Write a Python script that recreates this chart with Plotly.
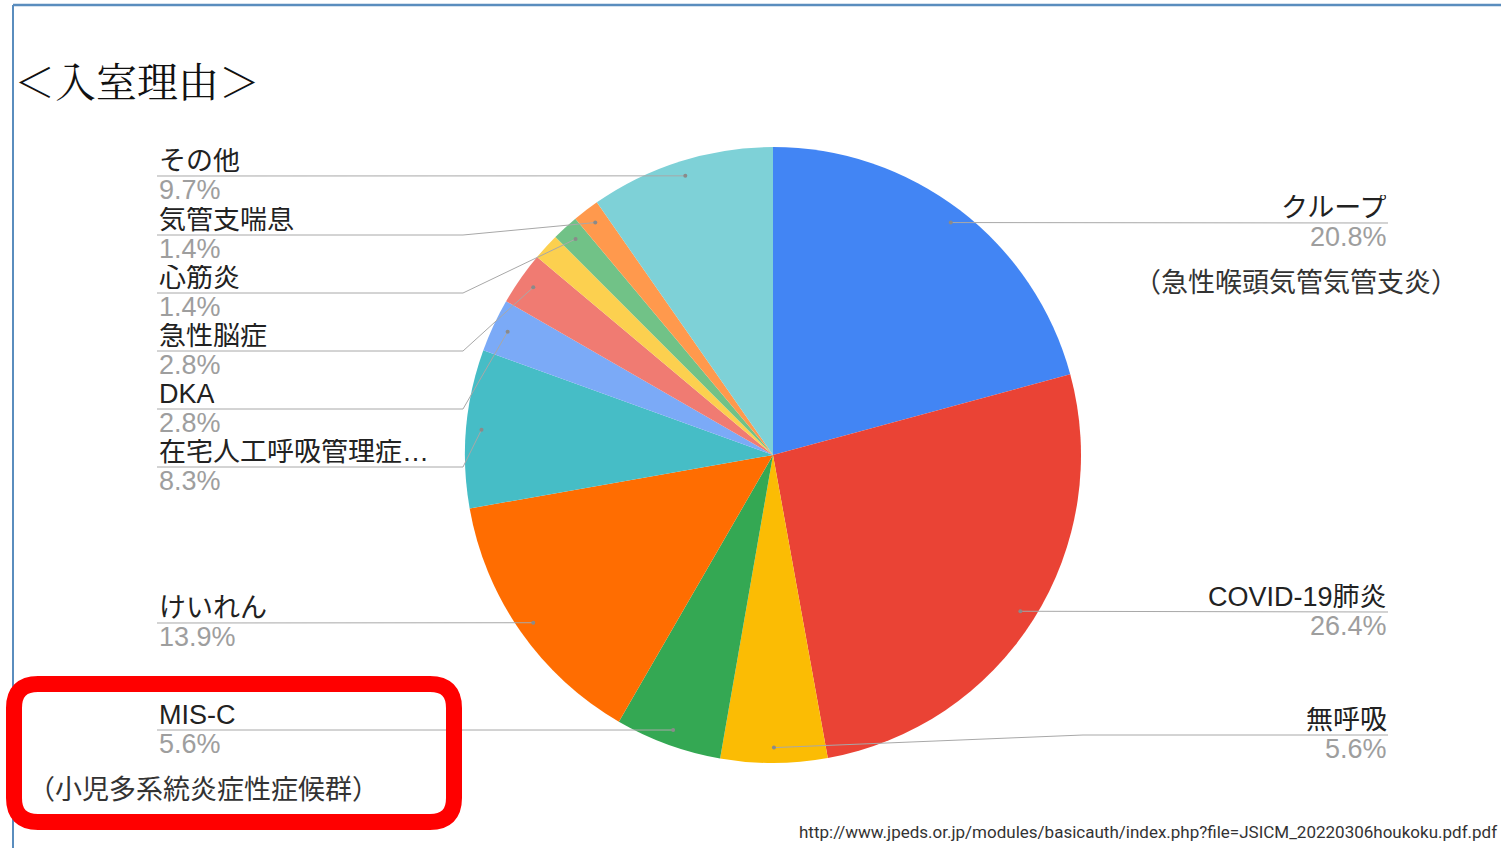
import math
import plotly.graph_objects as go

W, H = 1501, 848

# ---- data ----
categories = ["クループ", "COVID-19肺炎", "無呼吸", "MIS-C", "けいれん",
              "在宅人工呼吸管理症…", "DKA", "急性脳症", "（ラベルなし）",
              "心筋炎", "気管支喘息", "その他"]
percentages = [20.8, 26.4, 5.6, 5.6, 13.9, 8.3, 2.8, 2.8, 1.4, 1.4, 1.4, 9.7]
show_label = [True, True, True, True, True, True, True, True, False, True, True, True]
title_text = "＜入室理由＞"
note_croup = "（急性喉頭気管気管支炎）"
note_misc = "（小児多系統炎症性症候群）"
source_text = "http://www.jpeds.or.jp/modules/basicauth/index.php?file=JSICM_20220306houkoku.pdf.pdf"

# ---- styles / layout ----
colors = ["#4285F4", "#EA4335", "#FBBC04", "#34A853", "#FF6D01", "#46BDC6",
          "#7BAAF7", "#F07B72", "#FCD04F", "#71C287", "#FF994D", "#7ED1D7"]
label_side = ["right", "right", "right", "left", "left", "left", "left", "left",
              None, "left", "left", "left"]
label_line_y = [223, 612, 735, 730, 623, 467, 409, 351, None, 293, 235, 176]

CX, CY, R = 773, 455, 308
LEFT_X, RIGHT_X = 157, 1388
LEFT_ELBOW, RIGHT_ELBOW = 463, 1083
LABEL_FONT = "Arial, 'Liberation Sans', 'Noto Sans CJK JP', sans-serif"
CJK_FONT = "'Noto Sans CJK JP', sans-serif"


def px(x):
    return x / W


def py(y):
    return 1 - y / H


fig = go.Figure()
fig.add_trace(go.Pie(
    labels=categories,
    values=percentages,
    sort=False,
    direction="clockwise",
    rotation=0,
    marker=dict(colors=colors, line=dict(width=0)),
    textinfo="none",
    hoverinfo="none",
    showlegend=False,
    domain=dict(x=[px(CX - R), px(CX + R)], y=[py(CY + R), py(CY - R)]),
))

shapes = []
annotations = []
total = sum(percentages)
cum = 0.0
for i, v in enumerate(percentages):
    mid = (cum + v / 2) / total
    cum += v
    if not show_label[i]:
        continue
    th = 2 * math.pi * mid
    ax = CX + 0.95 * R * math.sin(th)
    ay = CY - 0.95 * R * math.cos(th)
    ly = label_line_y[i]
    side = label_side[i]
    xend = LEFT_X if side == "left" else RIGHT_X
    elbow = LEFT_ELBOW if side == "left" else RIGHT_ELBOW
    if abs(ay - ly) < 3:
        path = f"M {px(ax)},{py(ay)} L {px(xend)},{py(ly)}"
    else:
        path = (f"M {px(ax)},{py(ay)} L {px(elbow)},{py(ly)} "
                f"L {px(xend)},{py(ly)}")
    shapes.append(dict(type="path", xref="paper", yref="paper", path=path,
                       line=dict(color="#A8A8A8", width=1)))
    shapes.append(dict(type="circle", xref="paper", yref="paper",
                       x0=px(ax - 2), x1=px(ax + 2), y0=py(ay + 2), y1=py(ay - 2),
                       fillcolor="#8A8A8A", line=dict(width=0)))
    tx = px(158) if side == "left" else px(1388)
    xa = "left" if side == "left" else "right"
    annotations.append(dict(x=tx, y=py(ly - 15), xref="paper", yref="paper",
                            xanchor=xa, yanchor="middle", showarrow=False,
                            borderpad=0, height=26, text=categories[i],
                            font=dict(family=LABEL_FONT, size=27, color="#222222")))
    annotations.append(dict(x=tx, y=py(ly + 14), xref="paper", yref="paper",
                            xanchor=xa, yanchor="middle", showarrow=False,
                            borderpad=0, height=26, text=f"{v:.1f}%",
                            font=dict(family=LABEL_FONT, size=27, color="#9E9E9E")))

# extra notes
annotations.append(dict(x=px(1460), y=py(280), xref="paper", yref="paper",
                        xanchor="right", yanchor="middle", showarrow=False,
                        text=note_croup,
                        font=dict(family=CJK_FONT, size=27, color="#333333")))
annotations.append(dict(x=px(26), y=py(787), xref="paper", yref="paper",
                        xanchor="left", yanchor="middle", showarrow=False,
                        text=note_misc,
                        font=dict(family=CJK_FONT, size=27, color="#333333")))
annotations.append(dict(x=px(12), y=py(79), xref="paper", yref="paper",
                        xanchor="left", yanchor="middle", showarrow=False,
                        text=title_text,
                        font=dict(family="'Noto Serif CJK JP', 'Noto Sans CJK JP', serif",
                                  size=41, color="#111111")))
annotations.append(dict(x=px(1499), y=py(832), xref="paper", yref="paper",
                        xanchor="right", yanchor="middle", showarrow=False,
                        text=source_text,
                        font=dict(family="'Liberation Sans Narrow', 'Roboto', sans-serif",
                                  size=17, color="#333333")))

# frame lines
shapes.append(dict(type="line", xref="paper", yref="paper",
                   x0=px(13), x1=px(13), y0=py(5), y1=0,
                   line=dict(color="#5A8DBE", width=2)))
shapes.append(dict(type="line", xref="paper", yref="paper",
                   x0=px(13), x1=1, y0=py(5), y1=py(5),
                   line=dict(color="#5A8DBE", width=2.5)))

# red rounded highlight box
x0, x1, y0, y1, r = 14, 454, 684, 822, 24
box = (f"M {px(x0 + r)},{py(y0)} L {px(x1 - r)},{py(y0)} "
       f"Q {px(x1)},{py(y0)} {px(x1)},{py(y0 + r)} "
       f"L {px(x1)},{py(y1 - r)} Q {px(x1)},{py(y1)} {px(x1 - r)},{py(y1)} "
       f"L {px(x0 + r)},{py(y1)} Q {px(x0)},{py(y1)} {px(x0)},{py(y1 - r)} "
       f"L {px(x0)},{py(y0 + r)} Q {px(x0)},{py(y0)} {px(x0 + r)},{py(y0)} Z")
shapes.append(dict(type="path", xref="paper", yref="paper", path=box,
                   line=dict(color="#FF0000", width=16)))

fig.update_layout(
    width=W, height=H,
    margin=dict(l=0, r=0, t=0, b=0),
    paper_bgcolor="white", plot_bgcolor="white",
    showlegend=False,
    shapes=shapes,
    annotations=annotations,
)

fig.write_html("out.html")
